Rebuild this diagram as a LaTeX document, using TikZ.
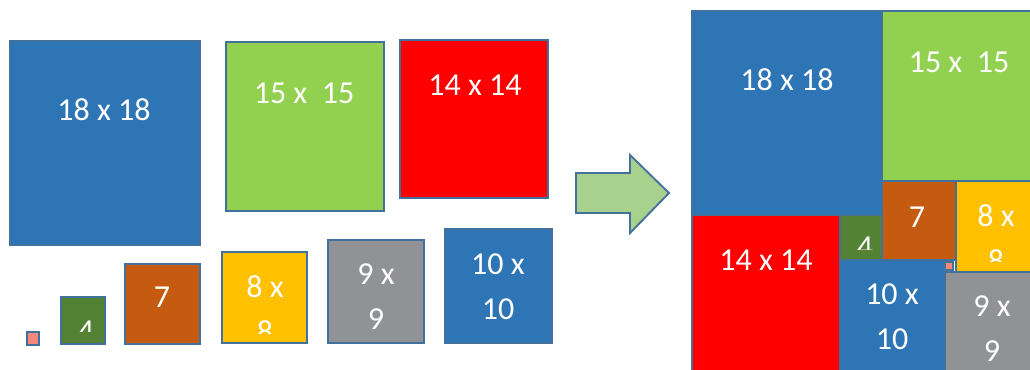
\documentclass[tikz,border=0pt]{standalone}
\usepackage{fontspec}
\setmainfont{Carlito}
\usetikzlibrary{fit}
\definecolor{sqblue}  {HTML}{2E75B6}
\definecolor{sqgreen} {HTML}{92D050}
\definecolor{sqred}   {HTML}{FF0000}
\definecolor{sqorange}{HTML}{C55A11}
\definecolor{sqyellow}{HTML}{FFC000}
\definecolor{sqgray}  {HTML}{909296}
\definecolor{sqdkgreen}{HTML}{548235}
\definecolor{sqpink}  {HTML}{F4897B}
\definecolor{sqedge}  {HTML}{41719C}
\definecolor{arrgreen}{HTML}{A9D18E}
\tikzset{
  sq/.style ={draw=sqedge, line width=1.4pt, fill=#1, inner sep=0pt},
  lbl/.style={text=white, inner sep=0pt, align=center,
              font=\fontsize{24}{33.75}\selectfont},
}

\begin{document}
\begin{tikzpicture}[x=0.75pt, y=-0.75pt]
  \clip (0,0) rectangle (1030,369);
  \fill[white] (0,0) rectangle (1030,369);

  %% unpacked squares
  \node[sq=sqblue,    fit={(10,41) (200,245)}]  (l18) {};
  \node[sq=sqgreen,   fit={(226,42) (384,211)}] (l15) {};
  \node[sq=sqred,     fit={(400,40) (548,198)}] (l14) {};
  \node[sq=sqyellow,  fit={(222,252) (307,343)}] (l8) {};
  \node[sq=sqgray,    fit={(328,240) (424,343)}] (l9) {};
  \node[sq=sqblue,    fit={(445,229) (552,343)}] (l10) {};
  \node[sq=sqorange,  fit={(125,264) (200,344)}] (l7) {};
  \node[sq=sqdkgreen, fit={(61,297) (105,344)}]  (l4) {};
  \node[sq=sqpink,    fit={(27,332) (39,345)}]   (l1) {};

  \node[lbl] (t18l) at (104,110) {18 x 18};
  \node[lbl] (t15l) at (304,93)  {15 x\ \ 15};
  \node[lbl] (t14l) at (475,85)  {14 x 14};
  \node[lbl, anchor=north] (t9l)  at (376,263) {9 x\\9};
  \node[lbl, anchor=north] (t10l) at (498,253) {10 x\\10};
  \node[lbl] (t7l) at (162,297) {7};
  \begin{scope}
    \clip (222,252) rectangle (307,333);
    \node[lbl, anchor=north] (t8l) at (265,275) {8 x\\8};
  \end{scope}
  \begin{scope}
    \clip (61,297) rectangle (105,331);
    \node[lbl, anchor=north] (t4l) at (86,321) {4};
  \end{scope}

  %% arrow
  \draw[draw=sqedge, line width=1.4pt, fill=arrgreen, line join=miter]
    (576,173) -- (630,173) -- (630,155) -- (669,193)
    -- (630,233) -- (630,213) -- (576,213) -- cycle;

  %% packed squares
  \node[sq=sqblue,    fit={(692,11) (882,215)}]  (r18) {};
  \node[sq=sqgreen,   fit={(882,11) (1040,181)}] (r15) {};
  \node[sq=sqred,     fit={(692,215) (840,374)}] (r14) {};
  \node[sq=sqdkgreen, fit={(840,215) (882,260)}] (r4) {};
  \node[sq=sqorange,  fit={(882,181) (956,260)}] (r7) {};
  \node[sq=sqyellow,  fit={(956,181) (1040,272)}] (r8) {};
  \node[sq=sqblue,    fit={(840,260) (945,374)}] (r10) {};
  \node[sq=sqgray,    fit={(945,272) (1040,374)}] (r9) {};
  \node[sq=sqpink,    fit={(945,262) (953,270)}] (r1) {};

  \node[lbl] (t18r) at (787,80)  {18 x 18};
  \node[lbl] (t15r) at (959,62)  {15 x\ \ 15};
  \node[lbl] (t14r) at (766,260) {14 x 14};
  \node[lbl] (t7r)  at (917,217) {7};
  \node[lbl, anchor=north] (t10r) at (892,283) {10 x\\10};
  \node[lbl, anchor=north] (t9r)  at (992,295) {9 x\\9};
  \begin{scope}
    \clip (956,181) rectangle (1040,261);
    \node[lbl, anchor=north] (t8r) at (996,204) {8 x\\8};
  \end{scope}
  \begin{scope}
    \clip (840,215) rectangle (882,249);
    \node[lbl, anchor=north] (t4r) at (865,237) {4};
  \end{scope}
\end{tikzpicture}
\end{document}
